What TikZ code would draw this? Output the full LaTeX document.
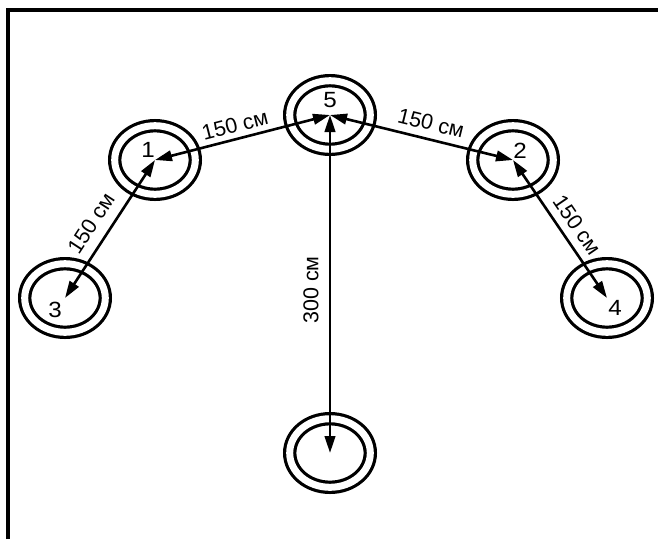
\documentclass[tikz,border=0pt]{standalone}
\usepackage{fontspec}
\setmainfont{Liberation Sans}
\usetikzlibrary{arrows.meta,shapes.geometric}
\begin{document}
\begin{tikzpicture}[x=1pt,y=1pt,
  ring/.style={ellipse,draw,line width=3.2pt,double,double distance=7pt,
    minimum width=80.6pt,minimum height=68.6pt,inner sep=0pt},
  arr/.style={line width=2.6pt,{Triangle[length=17pt,width=10.5pt]}-{Triangle[length=17pt,width=10.5pt]}},
  dist/.style={font=\fontsize{21.5}{21.5}\selectfont,inner sep=0pt},
  num/.style={font=\fontsize{22}{22}\selectfont,inner sep=0pt,xscale=1.1}]
\useasboundingbox (0,0) rectangle (658,-539);
\fill[white] (0,0) rectangle (658,-539);
\draw[line width=4pt] (7.5,-539) -- (7.5,-9.5) -- (658,-9.5);
% rings
\node[ring] (c5) at (330,-115) {};
\node[ring] (c1) at (155,-160) {};
\node[ring] (c2) at (513,-160) {};
\node[ring] (c3) at (65,-298) {};
\node[ring] (c4) at (607,-298) {};
\node[ring] (c6) at (330,-453) {};
% numbers
\node[num] (n5) at (330,-100) {5};
\node[num] (n1) at (148,-150) {1};
\node[num] (n2) at (520,-151) {2};
\node[num] (n3) at (55,-310) {3};
\node[num] (n4) at (615,-308) {4};
% arrows
\draw[arr] (c1.center) -- (c5.center);
\draw[arr] (c5.center) -- (c2.center);
\draw[arr] (c1.center) -- (c3.center);
\draw[arr] (c2.center) -- (c4.center);
\draw[arr] (c5.center) -- (c6.center);
% distance labels
\node[dist,rotate=14.4] (l15) at (235,-125) {150 см};
\node[dist,rotate=-13.8] (l52) at (431,-123) {150 см};
\node[dist,rotate=56.9] (l13) at (91,-223) {150 см};
\node[dist,rotate=-55.7] (l24) at (577,-225) {150 см};
\node[dist,rotate=90] (l56) at (311,-290) {300 см};
\end{tikzpicture}
\end{document}
